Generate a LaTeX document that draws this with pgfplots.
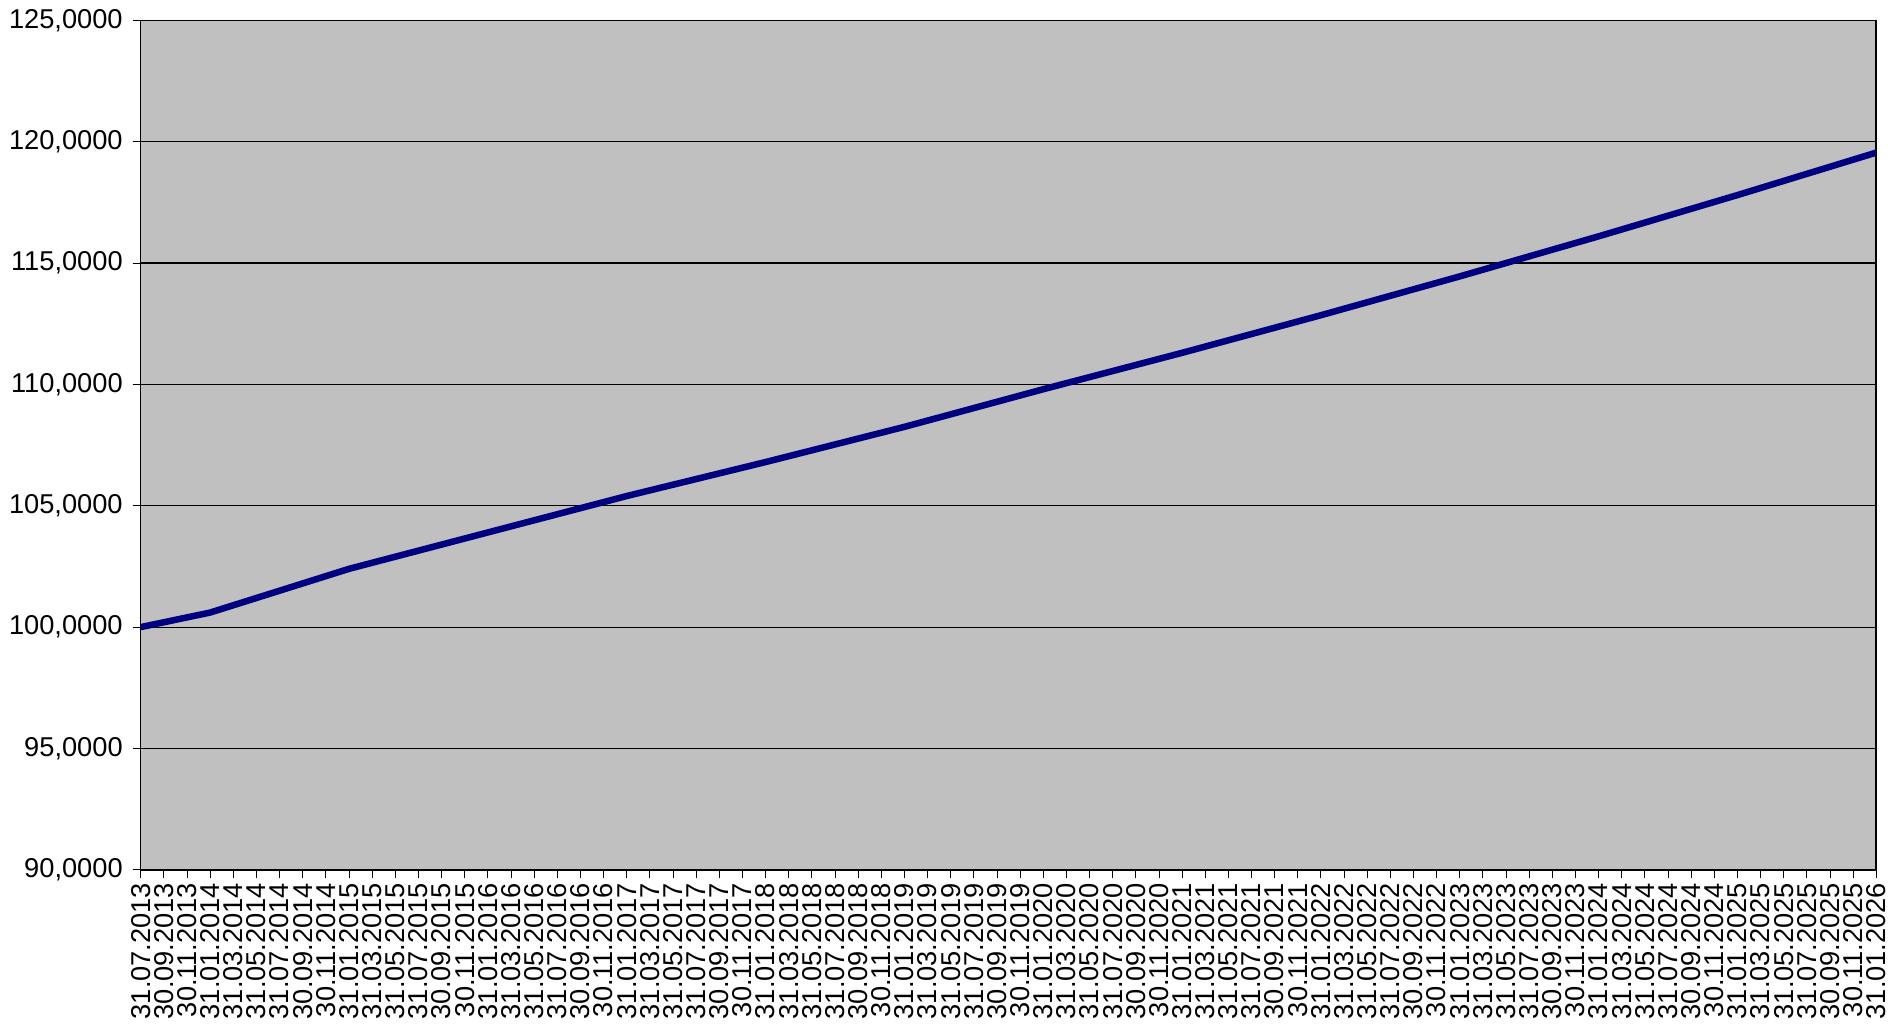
\documentclass[border=0pt]{standalone}
\usepackage{pgfplots}
\pgfplotsset{compat=1.18}
\usepackage{fontspec}
\setmainfont{Liberation Sans}
\definecolor{bg}{HTML}{C0C0C0}
\definecolor{ln}{HTML}{000080}
\begin{document}
\fontsize{6.7}{8}\selectfont
\begin{tikzpicture}
\begin{axis}[
  width=427pt, height=209pt, scale only axis,
  xmin=0, xmax=75, ymin=90, ymax=125,
  axis background/.style={fill=bg},
  ytick={90,95,...,125},
  ymajorgrids, grid style={black, line width=0.3pt},
  yticklabel style={/pgf/number format/.cd, fixed, fixed zerofill, precision=4, use comma, 1000 sep={}},
  /pgf/number format/assume math mode=true,
  xtick={0,...,75},
  xticklabels={31.07.2013,30.09.2013,30.11.2013,31.01.2014,31.03.2014,31.05.2014,31.07.2014,30.09.2014,30.11.2014,31.01.2015,31.03.2015,31.05.2015,31.07.2015,30.09.2015,30.11.2015,31.01.2016,31.03.2016,31.05.2016,31.07.2016,30.09.2016,30.11.2016,31.01.2017,31.03.2017,31.05.2017,31.07.2017,30.09.2017,30.11.2017,31.01.2018,31.03.2018,31.05.2018,31.07.2018,30.09.2018,30.11.2018,31.01.2019,31.03.2019,31.05.2019,31.07.2019,30.09.2019,30.11.2019,31.01.2020,31.03.2020,31.05.2020,31.07.2020,30.09.2020,30.11.2020,31.01.2021,31.03.2021,31.05.2021,31.07.2021,30.09.2021,30.11.2021,31.01.2022,31.03.2022,31.05.2022,31.07.2022,30.09.2022,30.11.2022,31.01.2023,31.03.2023,31.05.2023,31.07.2023,30.09.2023,30.11.2023,31.01.2024,31.03.2024,31.05.2024,31.07.2024,30.09.2024,30.11.2024,31.01.2025,31.03.2025,31.05.2025,31.07.2025,30.09.2025,30.11.2025,31.01.2026},
  xticklabel style={rotate=90, anchor=east, inner sep=1pt},
  tick style={black}, major tick length=2pt,
  tick align=outside, xtick pos=bottom, ytick pos=left,
  axis line style={black, line width=0.4pt},
  clip=true,
]
\addplot[ln, line width=1.6pt] coordinates {
(0,100) (3,100.6) (9,102.4) (15,103.9) (21,105.4) (27,106.8) (33,108.25) (39,109.8) (45,111.3) (51,112.85) (57,114.45) (63,116.1) (69,117.8) (75,119.55)};
\end{axis}
\end{tikzpicture}
\end{document}
